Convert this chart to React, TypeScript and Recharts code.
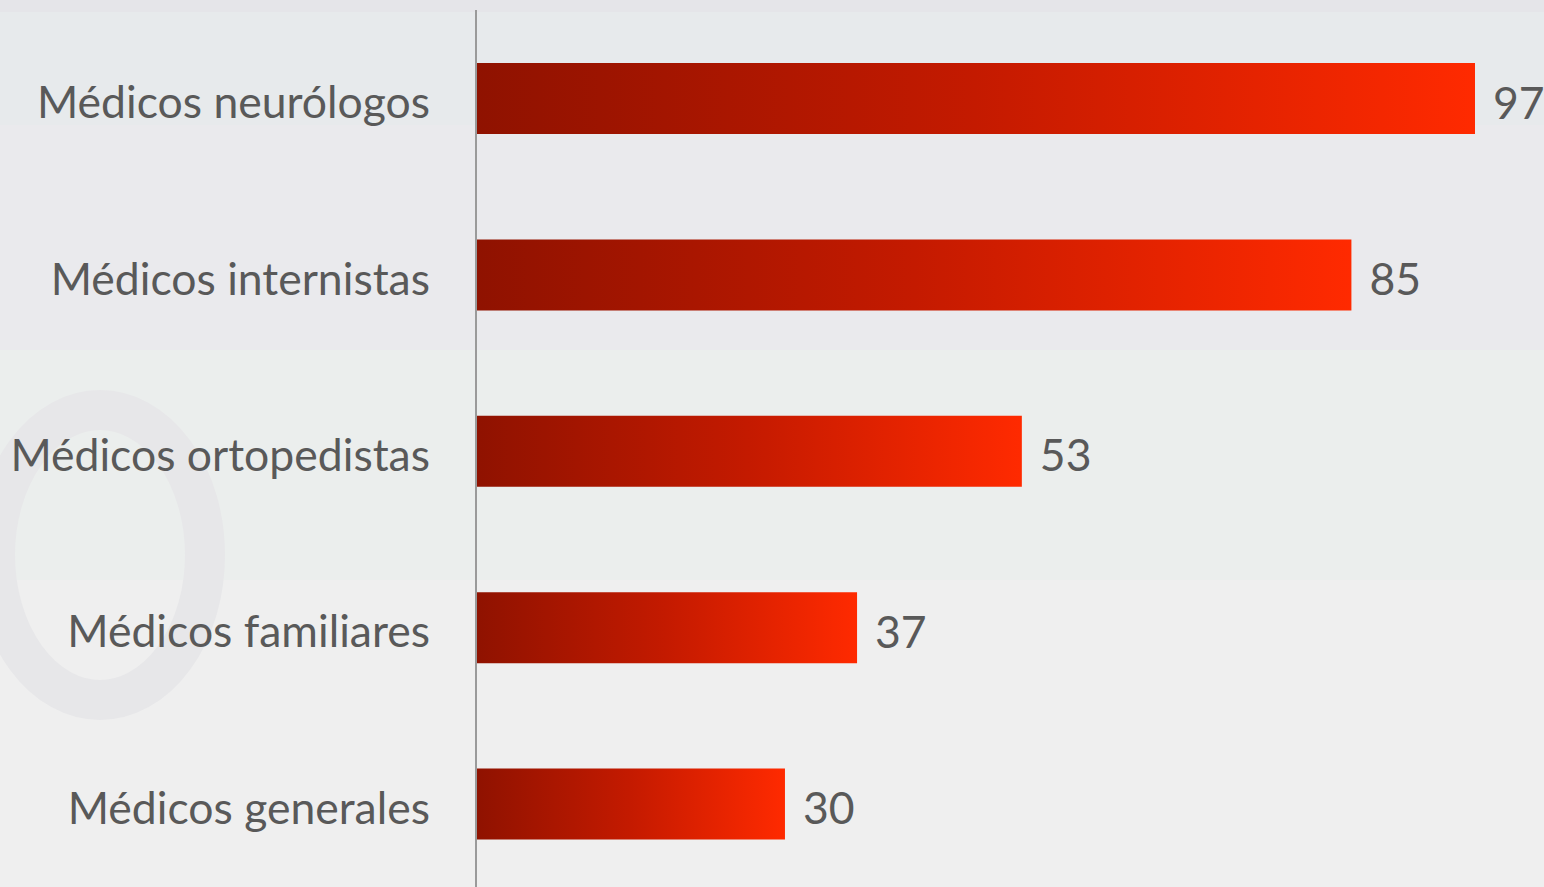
import React from 'react';
import { BarChart, Bar, XAxis, YAxis, LabelList } from 'recharts';

const categories = [
  'Médicos neurólogos',
  'Médicos internistas',
  'Médicos ortopedistas',
  'Médicos familiares',
  'Médicos generales',
];
const values = [97, 85, 53, 37, 30];

const data = categories.map((name, i) => ({ name, value: values[i] }));

const FONT = 'Lato, "Open Sans", sans-serif';
const TEXT = '#595959';
const FS = 44.5;

const Tick = (props: any) => {
  const { x, y, payload } = props;
  return (
    <text x={x} y={y} dy={20} textAnchor="end" fontSize={FS} fontFamily={FONT} fill={TEXT}>
      {payload.value}
    </text>
  );
};

const ValueLabel = (props: any) => {
  const { x, y, width, height, value } = props;
  return (
    <text
      x={x + width + 18}
      y={y + height / 2}
      dy={20}
      textAnchor="start"
      fontSize={FS}
      fontFamily={FONT}
      fill={TEXT}
    >
      {value}
    </text>
  );
};

export default function App() {
  return (
    <div
      style={{
        position: 'absolute',
        left: 0,
        top: 0,
        width: 1544,
        height: 887,
        overflow: 'hidden',
        background:
          'linear-gradient(to bottom, #e5e5e9 0px, #e5e5e9 12px, #e7eaec 12px, #e7eaec 125px, #eaeaed 125px, #eaeaed 350px, #ebeeed 350px, #ebeeed 580px, #efefef 580px, #efefef 887px)',
      }}
    >
      <svg width={1544} height={887} style={{ position: 'absolute', left: 0, top: 0 }}>
        <ellipse cx={100} cy={555} rx={105} ry={145} fill="none" stroke="#e7e7e9" strokeWidth={40} />
      </svg>
      <div style={{ position: 'absolute', left: 0, top: 0 }}>
        <BarChart
          width={1544}
          height={892}
          data={data}
          layout="vertical"
          margin={{ top: 10, right: 0, bottom: 0, left: 0 }}
          barCategoryGap={0}
        >
          <defs>
            <linearGradient id="barGrad" x1="0" y1="0" x2="1" y2="0">
              <stop offset="0%" stopColor="#8f1200" />
              <stop offset="50%" stopColor="#c41a00" />
              <stop offset="100%" stopColor="#ff2a00" />
            </linearGradient>
          </defs>
          <XAxis type="number" hide domain={[0, 103.7]} />
          <YAxis
            type="category"
            dataKey="name"
            width={476}
            tickLine={false}
            axisLine={{ stroke: '#9a9a9a', strokeWidth: 2 }}
            tick={<Tick />}
            tickSize={0}
            tickMargin={46}
            interval={0}
          />
          <Bar dataKey="value" fill="url(#barGrad)" barSize={71} isAnimationActive={false}>
            <LabelList dataKey="value" content={<ValueLabel />} />
          </Bar>
        </BarChart>
      </div>
    </div>
  );
}
